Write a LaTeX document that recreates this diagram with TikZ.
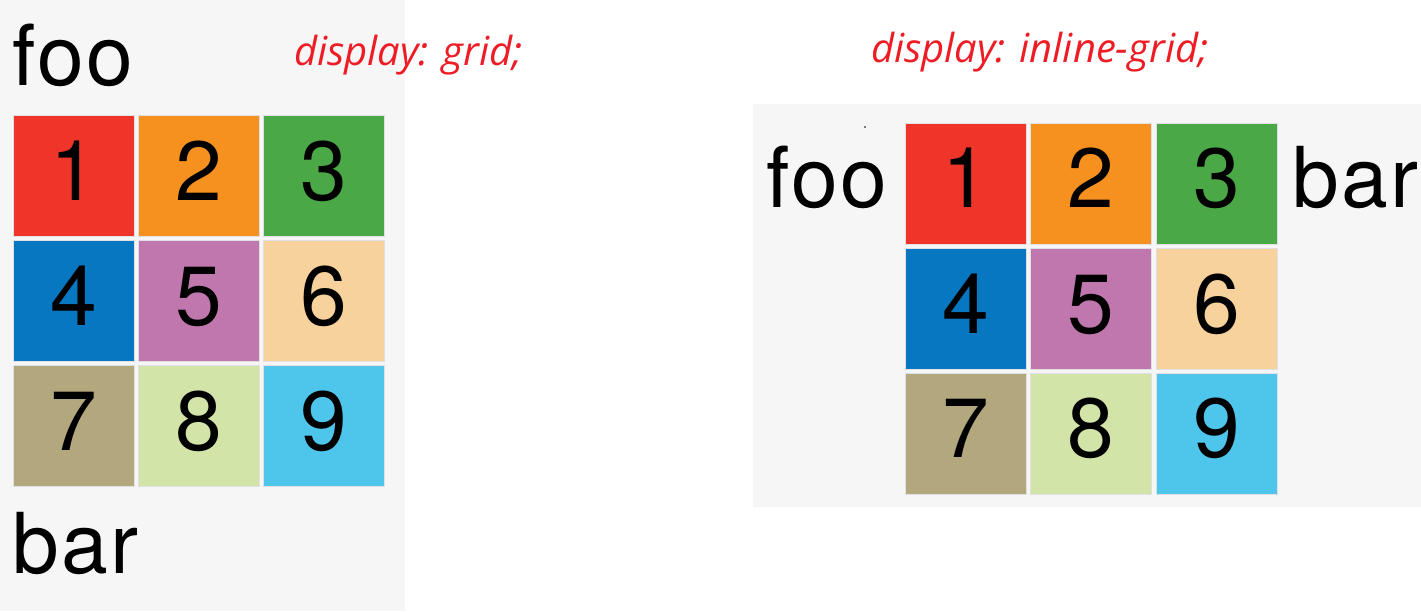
\documentclass[tikz,border=0pt]{standalone}
\usepackage{fontspec}
\setmainfont{TeX Gyre Heros}
\newfontfamily\wordfont[LetterSpace=3]{TeX Gyre Heros}
\newfontfamily\notefont{Open Sans}
\usepackage{tikz}
\usetikzlibrary{positioning}

\definecolor{pagegray}{HTML}{F6F6F6}
\definecolor{cellline}{HTML}{DFDFE4}
\definecolor{notered}{HTML}{EE1C25}
\definecolor{cone}{HTML}{EF3429}
\definecolor{ctwo}{HTML}{F6901F}
\definecolor{cthree}{HTML}{4BA846}
\definecolor{cfour}{HTML}{0677C0}
\definecolor{cfive}{HTML}{BF77AD}
\definecolor{csix}{HTML}{F7D29D}
\definecolor{cseven}{HTML}{B3A77E}
\definecolor{ceight}{HTML}{D2E4A7}
\definecolor{cnine}{HTML}{4EC6EC}

\tikzset{
  cell/.style = {draw = cellline, line width = 1pt, inner sep = 0pt,
                 minimum width = 121pt, minimum height = 121pt,
                 text height = 60pt, text depth = 12pt,
                 font = \fontsize{84}{84}\selectfont},
  word/.style = {anchor = base west, inner sep = 0pt,
                 font = \wordfont\fontsize{84}{84}\selectfont},
  note/.style = {anchor = base west, inner sep = 0pt, text = notered,
                 font = \notefont\itshape\fontsize{40}{40}\selectfont}
}

\begin{document}
\begin{tikzpicture}[x = 1pt, y = -1pt]
\useasboundingbox (0,0) rectangle (1421,611);
\fill [pagegray] (0,0) rectangle (405,611);
\fill [pagegray] (753,104) rectangle (1421,507);

% display: grid
\node [word] (gfoo) at (12,85) {foo};
\node [cell, fill = cone]   (g1) at (74,176)  {1};
\node [cell, fill = ctwo]   (g2) at (199,176) {2};
\node [cell, fill = cthree] (g3) at (324,176) {3};
\node [cell, fill = cfour]  (g4) at (74,301)  {4};
\node [cell, fill = cfive]  (g5) at (199,301) {5};
\node [cell, fill = csix]   (g6) at (324,301) {6};
\node [cell, fill = cseven] (g7) at (74,426)  {7};
\node [cell, fill = ceight] (g8) at (199,426) {8};
\node [cell, fill = cnine]  (g9) at (324,426) {9};
\node [word] (gbar) at (12,573) {bar};
\node [note] (gnote) at (294,65) {display: grid;};

% display: inline-grid
\node [word] (ifoo) at (766,207) {foo};
\node [cell, fill = cone]   (i1) at (965.5,183.5)  {1};
\node [cell, fill = ctwo]   (i2) at (1091,183.5)   {2};
\node [cell, fill = cthree] (i3) at (1216.5,183.5) {3};
\node [cell, fill = cfour]  (i4) at (965.5,309)    {4};
\node [cell, fill = cfive]  (i5) at (1091,309)     {5};
\node [cell, fill = csix]   (i6) at (1216.5,309)   {6};
\node [cell, fill = cseven] (i7) at (965.5,433.5)  {7};
\node [cell, fill = ceight] (i8) at (1091,433.5)   {8};
\node [cell, fill = cnine]  (i9) at (1216.5,433.5) {9};
\node [word] (ibar) at (1292,207) {bar};
\node [note] (inote) at (871,62) {display: inline-grid;};
\fill [black] (865,127) circle [radius = 0.8];
\end{tikzpicture}
\end{document}
